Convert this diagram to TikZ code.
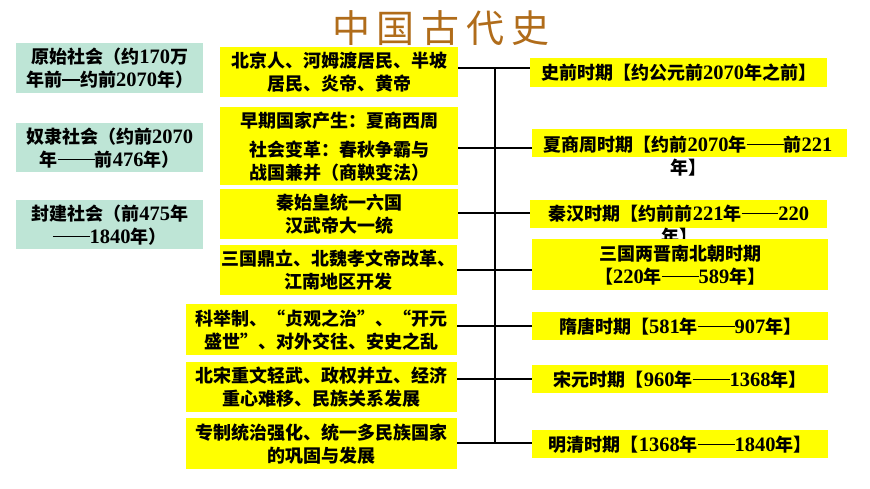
\documentclass[tikz,border=0pt]{standalone}
\usepackage{fontspec}
\setmainfont{Noto Sans CJK SC}
\newfontfamily\latf{Liberation Serif}
\newcommand\dg[1]{{\latf\bfseries\fontsize{20.5}{23}\selectfont #1}}
\newcommand\ddash{\rule[0.33em]{2.05em}{1.3pt}}
\newcommand\sdash{\rule[0.33em]{1em}{1.3pt}}
\definecolor{myyellow}{RGB}{255,255,0}
\definecolor{myteal}{RGB}{190,229,214}
\definecolor{titlebrown}{RGB}{176,108,26}
\begin{document}
\begin{tikzpicture}[x=1pt,y=-1pt,
  base/.style={inner sep=0pt, align=center, font=\fontsize{18}{23}\selectfont\bfseries},
  lbox/.style={base, fill=myteal, anchor=north west},
  mbox/.style={base, fill=myyellow, anchor=north west},
  rbox/.style={base, fill=myyellow, anchor=north west},
  txt/.style={base},
  link/.style={line width=2pt, black}]
\useasboundingbox[fill=white] (0,0) rectangle (870,489);
% title
\node[font=\fontsize{38}{40}\selectfont, text=titlebrown, inner sep=0pt] (title) at (441,28)
  {中\hspace{7pt}国\hspace{7pt}古\hspace{7pt}代\hspace{7pt}史};
% left boxes
\node[lbox, minimum width=187pt, minimum height=50pt] (l1) at (16,43) {原始社会（约\dg{170}万\\年前\sdash 约前\dg{2070}年）};
\node[lbox, minimum width=187pt, minimum height=49pt] (l2) at (16,123) {奴隶社会（约前\dg{2070}\\年\ddash 前\dg{476}年）};
\node[lbox, minimum width=187pt, minimum height=49pt] (l3) at (16,200) {封建社会（前\dg{475}年\\\ddash\dg{1840}年）};
% middle boxes
\node[mbox, minimum width=238pt, minimum height=50pt] (m1) at (220,47) {北京人、河姆渡居民、半坡\\居民、炎帝、黄帝};
\node[mbox, minimum width=238pt, minimum height=78pt] (m2) at (220,107) {早期国家产生：夏商西周\\[6pt]社会变革：春秋争霸与\\战国兼并（商鞅变法）};
\node[mbox, minimum width=238pt, minimum height=50pt] (m3) at (220,189) {秦始皇统一六国\\汉武帝大一统};
\node[mbox, minimum width=237pt, minimum height=50pt] (m4) at (220,245) {三国鼎立、北魏孝文帝改革、\\江南地区开发};
\node[mbox, minimum width=271pt, minimum height=51pt] (m5) at (186,304) {科举制、“贞观之治”、“开元\\盛世”、对外交往、安史之乱};
\node[mbox, minimum width=271pt, minimum height=50pt] (m6) at (186,362) {北宋重文轻武、政权并立、经济\\重心难移、民族关系发展};
\node[mbox, minimum width=271pt, minimum height=51pt] (m7) at (186,418) {专制统治强化、统一多民族国家\\的巩固与发展};
% right boxes
\node[rbox, minimum width=297pt, minimum height=29pt] (r1) at (530,58) {史前时期【约公元前\dg{2070}年之前】};
\node[rbox, minimum width=315pt, minimum height=28pt] (r2) at (532,129) {};
\node[txt] (r2t) at (688,156) {夏商周时期【约前\dg{2070}年\ddash 前\dg{221}\\年】};
\node[rbox, minimum width=297pt, minimum height=28pt] (r3) at (530,200) {};
\node[txt] (r3t) at (679,225) {秦汉时期【约前前\dg{221}年\ddash\dg{220}\\年】};
\node[rbox, minimum width=296pt, minimum height=51pt] (r4) at (532,239) {三国两晋南北朝时期\\【\dg{220}年\ddash\dg{589}年】};
\node[rbox, minimum width=296pt, minimum height=28pt] (r5) at (532,312) {隋唐时期【\dg{581}年\ddash\dg{907}年】};
\node[rbox, minimum width=296pt, minimum height=28pt] (r6) at (532,365) {宋元时期【\dg{960}年\ddash\dg{1368}年】};
\node[rbox, minimum width=296pt, minimum height=28pt] (r7) at (532,430) {明清时期【\dg{1368}年\ddash\dg{1840}年】};
% spine
\coordinate (s1) at (495,68);
\coordinate (s2) at (495,148);
\coordinate (s3) at (495,213);
\coordinate (s4) at (495,270);
\coordinate (s5) at (495,326);
\coordinate (s6) at (495,379);
\coordinate (s7) at (495,443);
\draw[link] (s1) -- (s7);
\foreach \i in {1,...,7} {
  \draw[link] (m\i.east |- s\i) -- (r\i.west |- s\i);
}
\end{tikzpicture}
\end{document}
